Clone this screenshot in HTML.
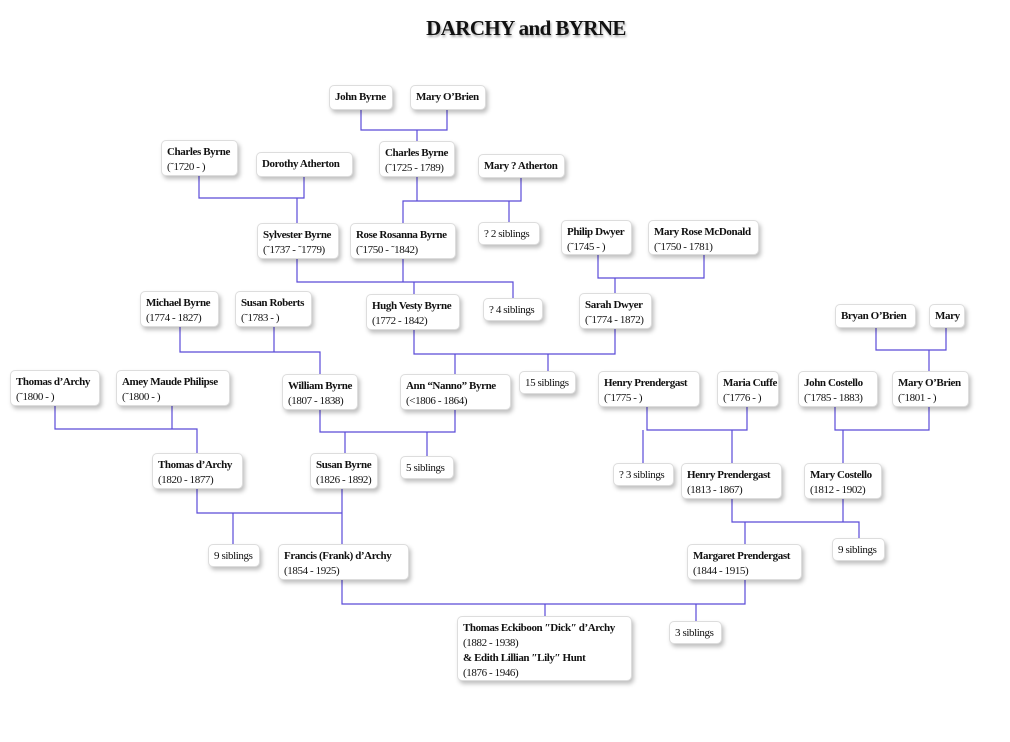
<!DOCTYPE html>
<html><head><meta charset="utf-8"><style>
body{margin:0;width:1010px;height:742px;background:#fff;position:relative;overflow:hidden;font-family:"Liberation Serif",serif;}
h1{position:absolute;left:0;width:1052px;top:16px;margin:0;text-align:center;font-size:21px;font-weight:bold;color:#111;text-shadow:1px 2px 2px #aaa;letter-spacing:-0.6px}
.b{position:absolute;box-sizing:border-box;background:#fff;border:1px solid #ddd;border-radius:5px;box-shadow:2px 3px 4px rgba(0,0,0,0.25);padding:3.5px 4px 3px 5px;font-size:11px;line-height:15px;color:#111;white-space:nowrap;letter-spacing:-0.4px}
.b b{font-weight:bold}
svg{position:absolute;left:0;top:0}
</style></head><body>
<h1>DARCHY and BYRNE</h1>
<svg width="1010" height="742"><g stroke="#5a4bd8" stroke-width="1.2" fill="none">
<path d="M361 110V130H447V110M417 130V141"/>
<path d="M199 176V198H304V176M297 198V223"/>
<path d="M417 177V201M521 177V201H403V223M509 201V222"/>
<path d="M297 259V282H513V298M403 259V282M414 282V294"/>
<path d="M598 255V278H704V255M615 278V293"/>
<path d="M414 330V354H615V329M455 354V374M548 354V371"/>
<path d="M180 327V352H320V374M274 327V352"/>
<path d="M876 327V350H946V327M929 350V371"/>
<path d="M55 406V429H197V453M172 406V429"/>
<path d="M320 410V432H455V410M345 432V453M427 432V456"/>
<path d="M647 407V430H747V407M643 430V463M732 430V463"/>
<path d="M835 407V430H929V407M843 430V463"/>
<path d="M197 489V513H342V489M233 513V544M342 513V544"/>
<path d="M732 499V522H859V538M843 499V522M745 522V544"/>
<path d="M342 580V604H745V580M545 604V616M696 604V621"/>
</g></svg>
<div class="b" style="left:329px;top:85px;width:64px;height:25px"><b>John Byrne</b></div>
<div class="b" style="left:410px;top:85px;width:76px;height:25px"><b>Mary O’Brien</b></div>
<div class="b" style="left:161px;top:140px;width:77px;height:36px"><b>Charles Byrne</b><br>(˜1720 - )</div>
<div class="b" style="left:256px;top:152px;width:97px;height:25px"><b>Dorothy Atherton</b></div>
<div class="b" style="left:379px;top:141px;width:76px;height:36px"><b>Charles Byrne</b><br>(˜1725 - 1789)</div>
<div class="b" style="left:478px;top:154px;width:87px;height:24px"><b>Mary ? Atherton</b></div>
<div class="b" style="left:257px;top:223px;width:82px;height:36px"><b>Sylvester Byrne</b><br>(˜1737 - ˜1779)</div>
<div class="b" style="left:350px;top:223px;width:106px;height:36px"><b>Rose Rosanna Byrne</b><br>(˜1750 - ˜1842)</div>
<div class="b" style="left:478px;top:222px;width:62px;height:23px">? 2 siblings</div>
<div class="b" style="left:561px;top:220px;width:71px;height:35px"><b>Philip Dwyer</b><br>(˜1745 - )</div>
<div class="b" style="left:648px;top:220px;width:111px;height:35px"><b>Mary Rose McDonald</b><br>(˜1750 - 1781)</div>
<div class="b" style="left:140px;top:291px;width:79px;height:36px"><b>Michael Byrne</b><br>(1774 - 1827)</div>
<div class="b" style="left:235px;top:291px;width:77px;height:36px"><b>Susan Roberts</b><br>(˜1783 - )</div>
<div class="b" style="left:366px;top:294px;width:94px;height:36px"><b>Hugh Vesty Byrne</b><br>(1772 - 1842)</div>
<div class="b" style="left:483px;top:298px;width:60px;height:23px">? 4 siblings</div>
<div class="b" style="left:579px;top:293px;width:73px;height:36px"><b>Sarah Dwyer</b><br>(˜1774 - 1872)</div>
<div class="b" style="left:835px;top:304px;width:81px;height:24px"><b>Bryan O’Brien</b></div>
<div class="b" style="left:929px;top:304px;width:36px;height:24px"><b>Mary</b></div>
<div class="b" style="left:10px;top:370px;width:90px;height:36px"><b>Thomas d’Archy</b><br>(˜1800 - )</div>
<div class="b" style="left:116px;top:370px;width:114px;height:36px"><b>Amey Maude Philipse</b><br>(˜1800 - )</div>
<div class="b" style="left:282px;top:374px;width:76px;height:36px"><b>William Byrne</b><br>(1807 - 1838)</div>
<div class="b" style="left:400px;top:374px;width:111px;height:36px"><b>Ann “Nanno” Byrne</b><br>(&lt;1806 - 1864)</div>
<div class="b" style="left:519px;top:371px;width:57px;height:23px">15 siblings</div>
<div class="b" style="left:598px;top:371px;width:102px;height:36px"><b>Henry Prendergast</b><br>(˜1775 - )</div>
<div class="b" style="left:717px;top:371px;width:62px;height:36px"><b>Maria Cuffe</b><br>(˜1776 - )</div>
<div class="b" style="left:798px;top:371px;width:80px;height:36px"><b>John Costello</b><br>(˜1785 - 1883)</div>
<div class="b" style="left:892px;top:371px;width:77px;height:36px"><b>Mary O’Brien</b><br>(˜1801 - )</div>
<div class="b" style="left:152px;top:453px;width:91px;height:36px"><b>Thomas d’Archy</b><br>(1820 - 1877)</div>
<div class="b" style="left:310px;top:453px;width:68px;height:36px"><b>Susan Byrne</b><br>(1826 - 1892)</div>
<div class="b" style="left:400px;top:456px;width:54px;height:23px">5 siblings</div>
<div class="b" style="left:613px;top:463px;width:61px;height:23px">? 3 siblings</div>
<div class="b" style="left:681px;top:463px;width:101px;height:36px"><b>Henry Prendergast</b><br>(1813 - 1867)</div>
<div class="b" style="left:804px;top:463px;width:78px;height:36px"><b>Mary Costello</b><br>(1812 - 1902)</div>
<div class="b" style="left:208px;top:544px;width:52px;height:23px">9 siblings</div>
<div class="b" style="left:278px;top:544px;width:131px;height:36px"><b>Francis (Frank) d’Archy</b><br>(1854 - 1925)</div>
<div class="b" style="left:687px;top:544px;width:115px;height:36px"><b>Margaret Prendergast</b><br>(1844 - 1915)</div>
<div class="b" style="left:832px;top:538px;width:53px;height:23px">9 siblings</div>
<div class="b" style="left:457px;top:616px;width:175px;height:65px"><b>Thomas Eckiboon ″Dick″ d’Archy</b><br>(1882 - 1938)<br><b>&amp; Edith Lillian ″Lily″ Hunt</b><br>(1876 - 1946)</div>
<div class="b" style="left:669px;top:621px;width:53px;height:23px">3 siblings</div>
</body></html>
